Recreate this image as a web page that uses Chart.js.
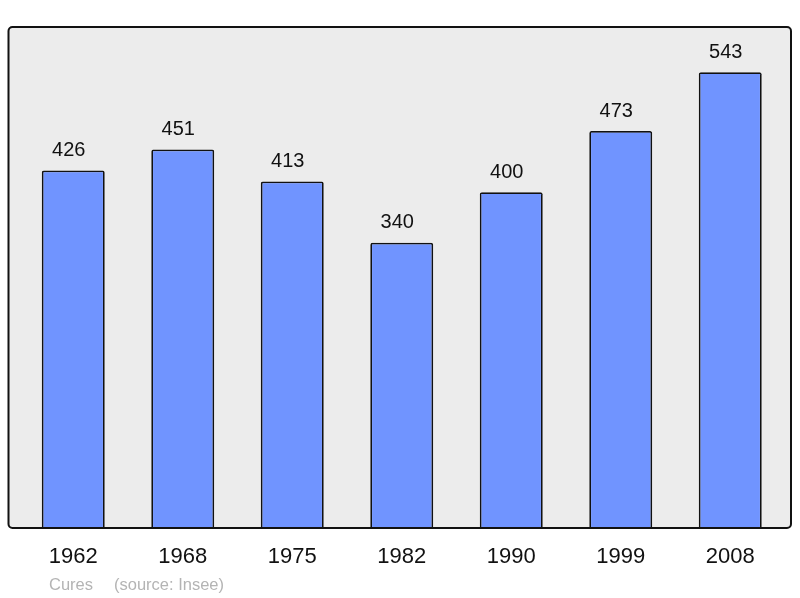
<!DOCTYPE html>
<html>
<head>
<meta charset="utf-8">
<script src="https://cdn.jsdelivr.net/npm/chart.js@4/dist/chart.umd.min.js"></script>
<style>
  body { margin: 0; background: #fff; }
  canvas { display: block; }
</style>
</head>
<body>
<canvas id="popChart" width="800" height="598"></canvas>
<script>
const years = ['1962', '1968', '1975', '1982', '1990', '1999', '2008'];
const population = [426, 451, 413, 340, 400, 473, 543];
const yMax = 597;
const commune = 'Cures';
const source = '(source: Insee)';

// grey panel behind the bars, black frame on top
const panel = {
  id: 'panel',
  beforeDatasetsDraw(chart) {
    const a = chart.chartArea;
    const ctx = chart.ctx;
    ctx.save();
    ctx.beginPath();
    ctx.roundRect(a.left - 10, a.top, a.right - a.left + 16, a.bottom - a.top, 4);
    ctx.fillStyle = '#ececec';
    ctx.fill();
    ctx.restore();
  },
  afterDatasetsDraw(chart) {
    const a = chart.chartArea;
    const ctx = chart.ctx;
    ctx.save();
    ctx.beginPath();
    ctx.roundRect(a.left - 10, a.top, a.right - a.left + 16, a.bottom - a.top, 4);
    ctx.lineWidth = 2;
    ctx.strokeStyle = '#111';
    ctx.stroke();

    // value labels above bars (sit a little left of centre in the original)
    ctx.fillStyle = '#111';
    ctx.font = '20px "Liberation Sans", Arial, sans-serif';
    ctx.textAlign = 'center';
    ctx.textBaseline = 'middle';
    chart.getDatasetMeta(0).data.forEach((bar, i) => {
      ctx.fillText(population[i], bar.x - 4.5, bar.y - 20);
    });

    // source line
    ctx.fillStyle = '#b4b4b4';
    ctx.font = '16.5px "Liberation Sans", Arial, sans-serif';
    ctx.textAlign = 'left';
    ctx.fillText(commune, 49, 585);
    ctx.fillText(source, 114, 585);
    ctx.restore();
  }
};

const ctx = document.getElementById('popChart').getContext('2d');
new Chart(ctx, {
  type: 'bar',
  data: {
    labels: years,
    datasets: [{
      data: population,
      backgroundColor: '#7094ff',
      borderColor: '#111',
      borderWidth: 1.8,
      borderRadius: 2,
      barPercentage: 0.575,
      categoryPercentage: 1
    }]
  },
  options: {
    responsive: false,
    animation: false,
    layout: { padding: { left: 18.5, right: 15, top: 27, bottom: 0 } },
    plugins: {
      legend: { display: false },
      tooltip: { enabled: false }
    },
    scales: {
      y: {
        display: false,
        min: 0,
        max: yMax
      },
      x: {
        grid: { display: false, drawTicks: false },
        border: { display: false },
        ticks: {
          color: '#111',
          padding: 16,
          font: { family: '"Liberation Sans", Arial, sans-serif', size: 22 }
        },
        afterFit(scale) { scale.height = 70; }
      }
    }
  },
  plugins: [panel]
});
</script>
</body>
</html>
